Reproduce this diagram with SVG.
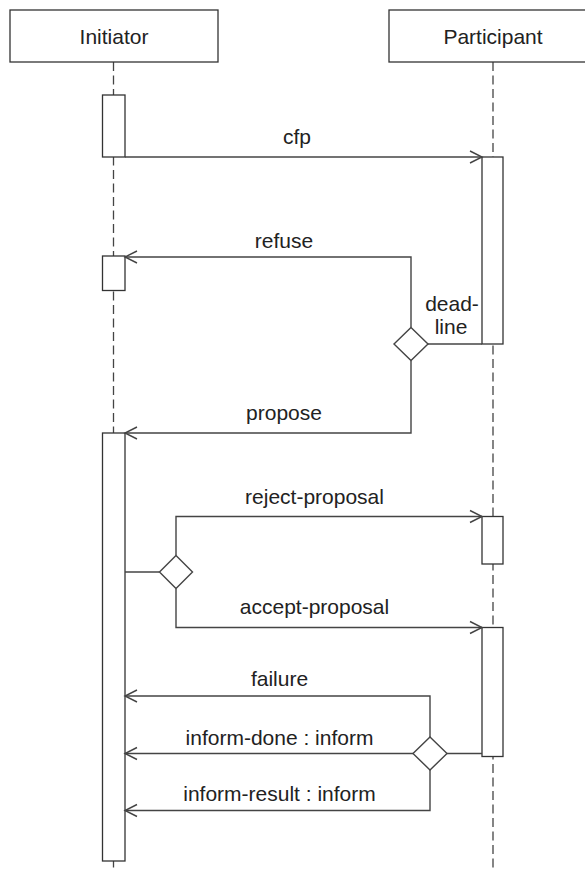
<svg xmlns="http://www.w3.org/2000/svg" width="585" height="870" viewBox="0 0 585 870">
  <style>
    .box { fill: #fff; stroke: #333; stroke-width: 1.3; }
    .life { fill: none; stroke: #444; stroke-width: 1.3; stroke-dasharray: 9 4.5; }
    .msg { fill: none; stroke: #444; stroke-width: 1.4; }
    .msg.arrow { marker-end: url(#open); }
    .dia { fill: #fff; stroke: #444; stroke-width: 1.4; }
    text { font-family: "Liberation Sans", Arial, sans-serif; font-size: 21px; fill: #222; text-anchor: middle; }
  </style>
  <defs>
    <marker id="open" markerUnits="userSpaceOnUse" markerWidth="16" markerHeight="16" viewBox="-14 -8 16 16" refX="0" refY="0" orient="auto">
      <path d="M-12,-6 L0,0 L-12,6" fill="none" stroke="#444" stroke-width="1.4"/>
    </marker>
  </defs>
  <rect width="585" height="870" fill="#fff"/>

  <!-- lifelines -->
  <g id="lifelines">
    <line class="life" x1="113.5" y1="62" x2="113.5" y2="870"/>
    <line class="life" x1="493" y1="62" x2="493" y2="870"/>
  </g>

  <!-- lifeline heads -->
  <g id="initiator">
    <rect class="box" x="10" y="10" width="208" height="52"/>
    <text x="114" y="44">Initiator</text>
  </g>
  <g id="participant">
    <rect class="box" x="389" y="10" width="210" height="52"/>
    <text x="493" y="44">Participant</text>
  </g>

  <!-- activation bars -->
  <g id="activations">
    <rect id="init-act-1" class="box" x="102.5" y="95" width="22.5" height="62"/>
    <rect id="init-act-2" class="box" x="102.5" y="256" width="22.5" height="34.5"/>
    <rect id="init-act-3" class="box" x="102.5" y="433" width="22.5" height="428"/>
    <rect id="part-act-1" class="box" x="482" y="157" width="21" height="187"/>
    <rect id="part-act-2" class="box" x="482" y="516.5" width="21" height="47.5"/>
    <rect id="part-act-3" class="box" x="482" y="627.5" width="21" height="129"/>
  </g>

  <!-- messages -->
  <g id="connectors">
    <path class="msg arrow" d="M125,157 H482"/>
    <path class="msg arrow" d="M411,327.5 V257 H125"/>
    <path class="msg" d="M428,344 H482"/>
    <path class="msg arrow" d="M411,360.5 V433 H125"/>
    <path class="msg" d="M125,572 H159.5"/>
    <path class="msg arrow" d="M176,555.5 V516.5 H482"/>
    <path class="msg arrow" d="M176,588.5 V627.5 H482"/>
    <path class="msg" d="M447,753.5 H482"/>
    <path class="msg arrow" d="M430,737 V696 H125"/>
    <path class="msg arrow" d="M413,753.5 H125"/>
    <path class="msg arrow" d="M430,770 V810.5 H125"/>
  </g>

  <!-- decision points -->
  <g id="deadline-choice">
    <path class="dia" d="M411,327.5 L428,344 L411,360.5 L394,344 Z"/>
  </g>
  <g id="proposal-choice">
    <path class="dia" d="M176,555.5 L192.5,572 L176,588.5 L159.5,572 Z"/>
  </g>
  <g id="result-choice">
    <path class="dia" d="M430,737 L447,753.5 L430,770 L413,753.5 Z"/>
  </g>

  <!-- message labels -->
  <g id="labels">
    <text x="297" y="144">cfp</text>
    <text x="284" y="248">refuse</text>
    <text x="452" y="311">dead-</text>
    <text x="451" y="334">line</text>
    <text x="284" y="420">propose</text>
    <text x="314.5" y="504">reject-proposal</text>
    <text x="314.5" y="614">accept-proposal</text>
    <text x="279.5" y="686">failure</text>
    <text x="279.5" y="745">inform-done : inform</text>
    <text x="279.5" y="801">inform-result : inform</text>
  </g>
</svg>
